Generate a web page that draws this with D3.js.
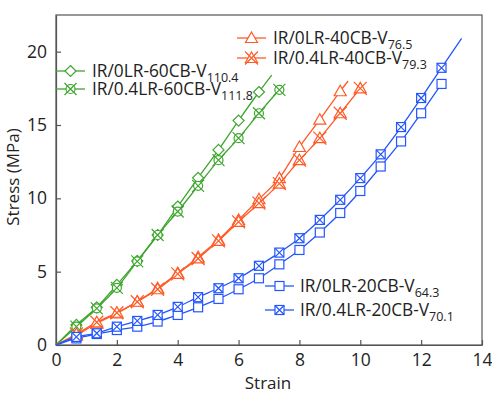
<!DOCTYPE html>
<html>
<head>
<meta charset="utf-8">
<script src="https://cdn.jsdelivr.net/npm/d3@7"></script>
<style>
  body { margin: 0; background: #fff; }
  text { font-family: "Open Sans", "Noto Sans", sans-serif; fill: #222; }
</style>
</head>
<body>
<div id="chart"></div>
<script>
// chart size
var width = 492;
var height = 394;

// plot box
var plotLeft = 56, plotRight = 482, plotTop = 15, plotBottom = 345;

// strain positions of the markers (shared by all series)
var strainMarks = [0, 0.67, 1.34, 2.0, 2.67, 3.34, 4.0, 4.67, 5.34, 6.0, 6.67,
  7.34, 8.0, 8.67, 9.34, 10.0, 10.67, 11.34, 12.0, 12.67];

// stress values (MPa) at each marker
var green0Stress = [0, 1.37, 2.57, 4.1, 5.73, 7.5, 9.44, 11.4, 13.3, 15.3, 17.25];
var green4Stress = [0, 1.25, 2.5, 3.9, 5.7, 7.5, 9.1, 10.85, 12.6, 14.1, 15.8, 17.4];
var orange0Stress = [0, 0.68, 1.48, 2.16, 2.96, 3.87, 4.9, 5.99, 7.17, 8.53, 9.94,
  11.38, 13.5, 15.36, 17.3];
var orange4Stress = [0, 0.75, 1.55, 2.2, 2.95, 3.8, 4.85, 5.9, 7.1, 8.4, 9.67,
  11.0, 12.6, 14.1, 15.8, 17.5];
var blue0Stress = [0, 0.45, 0.75, 1.02, 1.25, 1.6, 2.05, 2.57, 3.14, 3.8, 4.55,
  5.5, 6.48, 7.67, 9.0, 10.5, 12.17, 13.88, 15.8, 17.8];
var blue4Stress = [0, 0.55, 0.8, 1.25, 1.64, 2.05, 2.6, 3.26, 3.87, 4.55, 5.4,
  6.3, 7.28, 8.53, 9.9, 11.38, 13.0, 14.86, 16.84, 18.9];

// where the curve keeps going past the last marker [strain, stress]
var green0Tail = [7.09, 18.4];
var green4Tail = null;
var orange0Tail = [9.6, 18.0];
var orange4Tail = null;
var blue0Tail = null;
var blue4Tail = [13.33, 20.9];

// legend names and subscripts
var names = ["IR/0LR-60CB-V", "IR/0.4LR-60CB-V", "IR/0LR-40CB-V", "IR/0.4LR-40CB-V",
  "IR/0LR-20CB-V", "IR/0.4LR-20CB-V"];
var subs = ["110.4", "111.8", "76.5", "79.3", "64.3", "70.1"];

var xTicks = [0, 2, 4, 6, 8, 10, 12, 14];
var yTicks = [0, 5, 10, 15, 20];

var green = "#3ea62e", orange = "#ff5a26", blue = "#2456ff";

var series = [
  { stress: green0Stress, tail: green0Tail, color: green, mark: "diamond" },
  { stress: green4Stress, tail: green4Tail, color: green, mark: "circleX" },
  { stress: orange0Stress, tail: orange0Tail, color: orange, mark: "triangle" },
  { stress: orange4Stress, tail: orange4Tail, color: orange, mark: "triangleX" },
  { stress: blue0Stress, tail: blue0Tail, color: blue, mark: "square" },
  { stress: blue4Stress, tail: blue4Tail, color: blue, mark: "squareX" }
];

var svg = d3.select("#chart").append("svg")
  .attr("width", width)
  .attr("height", height);

var xScale = d3.scaleLinear().domain([0, 14]).range([plotLeft, plotRight]);
var yScale = d3.scaleLinear().domain([0, 22.5]).range([plotBottom, plotTop]);

// frame
svg.append("rect")
  .attr("x", plotLeft).attr("y", plotTop)
  .attr("width", plotRight - plotLeft).attr("height", plotBottom - plotTop)
  .attr("fill", "none").attr("stroke", "#555").attr("stroke-width", 1.2);

var xAxis = svg.append("g")
  .attr("transform", "translate(0," + plotBottom + ")")
  .call(d3.axisBottom(xScale).tickValues(xTicks).tickSizeInner(-5).tickSizeOuter(0).tickPadding(9));
var yAxis = svg.append("g")
  .attr("transform", "translate(" + plotLeft + ",0)")
  .call(d3.axisLeft(yScale).tickValues(yTicks).tickSizeInner(-5).tickSizeOuter(0).tickPadding(9));

[xAxis, yAxis].forEach(function (ax) {
  ax.select(".domain").attr("stroke", "#555").attr("stroke-width", 1.2);
  ax.selectAll(".tick line").attr("stroke", "#555").attr("stroke-width", 1.2);
  ax.selectAll(".tick text")
    .attr("font-family", "'Open Sans', sans-serif")
    .attr("font-size", 17.5)
    .attr("fill", "#222");
});

// axis titles
svg.append("text")
  .attr("x", 268).attr("y", 389)
  .attr("text-anchor", "middle")
  .attr("font-size", 17)
  .text("Strain");
svg.append("text")
  .attr("transform", "translate(19,177)rotate(-90)")
  .attr("text-anchor", "middle")
  .attr("font-size", 17)
  .text("Stress (MPa)");

// marker shapes
function drawMark(g, type, x, y, color) {
  if (type === "diamond") {
    g.append("path")
      .attr("d", "M" + x + "," + (y - 5.5) + "L" + (x + 5.5) + "," + y + "L" + x + "," + (y + 5.5) + "L" + (x - 5.5) + "," + y + "Z")
      .attr("fill", "#fff").attr("stroke", color).attr("stroke-width", 1.2);
  } else if (type === "circleX") {
    g.append("circle").attr("cx", x).attr("cy", y).attr("r", 4.5)
      .attr("fill", "#fff").attr("stroke", color).attr("stroke-width", 1.2);
    g.append("path")
      .attr("d", "M" + (x - 6) + "," + (y - 6) + "L" + (x + 6) + "," + (y + 6) + "M" + (x + 6) + "," + (y - 6) + "L" + (x - 6) + "," + (y + 6))
      .attr("stroke", color).attr("stroke-width", 1.2);
  } else if (type === "triangle" || type === "triangleX") {
    g.append("path")
      .attr("d", "M" + x + "," + (y - 6) + "L" + (x + 6) + "," + (y + 4.5) + "L" + (x - 6) + "," + (y + 4.5) + "Z")
      .attr("fill", "#fff").attr("stroke", color).attr("stroke-width", 1.2);
    if (type === "triangleX") {
      g.append("path")
        .attr("d", "M" + (x - 6.5) + "," + (y - 6.5) + "L" + (x + 6.5) + "," + (y + 6.5) + "M" + (x + 6.5) + "," + (y - 6.5) + "L" + (x - 6.5) + "," + (y + 6.5))
        .attr("stroke", color).attr("stroke-width", 1.2);
    }
  } else {
    g.append("rect").attr("x", x - 4.5).attr("y", y - 4.5).attr("width", 9).attr("height", 9)
      .attr("fill", "#fff").attr("stroke", color).attr("stroke-width", 1.2);
    if (type === "squareX") {
      g.append("path")
        .attr("d", "M" + (x - 4.5) + "," + (y - 4.5) + "L" + (x + 4.5) + "," + (y + 4.5) + "M" + (x + 4.5) + "," + (y - 4.5) + "L" + (x - 4.5) + "," + (y + 4.5))
        .attr("stroke", color).attr("stroke-width", 1.2);
    }
  }
}

var line = d3.line()
  .x(function (d) { return xScale(d[0]); })
  .y(function (d) { return yScale(d[1]); })
  .curve(d3.curveMonotoneX);

var plot = svg.append("g");

series.forEach(function (s) {
  var pts = s.stress.map(function (v, i) { return [strainMarks[i], v]; });
  var curvePts = s.tail ? pts.concat([s.tail]) : pts;
  plot.append("path")
    .attr("d", line(curvePts))
    .attr("fill", "none")
    .attr("stroke", s.color)
    .attr("stroke-width", 1.3);
  // no marker drawn at the origin, the curves just start there
  var mg = plot.append("g");
  pts.slice(1).forEach(function (p) {
    drawMark(mg, s.mark, xScale(p[0]), yScale(p[1]), s.color);
  });
});

// legends: [line start x, text x, baseline y of row]
var legendPos = [
  [56, 92, 77], [56, 92, 95],
  [237, 273, 44], [237, 273, 64],
  [265, 300, 292], [265, 300, 316]
];

series.forEach(function (s, i) {
  var lp = legendPos[i];
  var cy = lp[2] - 6;
  var lg = svg.append("g");
  lg.append("line")
    .attr("x1", lp[0]).attr("x2", lp[0] + 29)
    .attr("y1", cy).attr("y2", cy)
    .attr("stroke", s.color).attr("stroke-width", 1.3);
  drawMark(lg, s.mark, lp[0] + 14.5, cy, s.color);
  var t = lg.append("text")
    .attr("x", lp[1]).attr("y", lp[2])
    .attr("font-size", 17.3);
  t.append("tspan").text(names[i]);
  t.append("tspan").attr("dy", 4.5).attr("font-size", 12.5).text(subs[i]);
});
</script>
</body>
</html>
